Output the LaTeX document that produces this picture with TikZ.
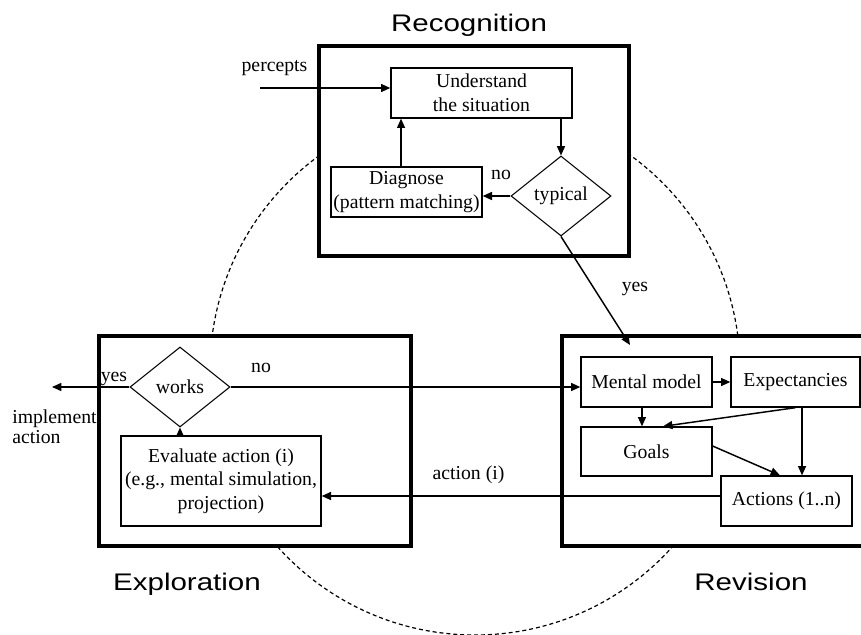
\documentclass[tikz,border=0pt]{standalone}
\usepackage{fontspec}
\setmainfont{Liberation Serif}
\newfontfamily\titlefont[FakeStretch=1.23]{Liberation Sans}
\usetikzlibrary{shapes.geometric,arrows.meta}
\begin{document}
\begin{tikzpicture}[x=0.75pt,y=-0.75pt,
  every node/.style={font=\fontsize{14.8pt}{17.8pt}\selectfont},
  box/.style={draw, line width=1pt, fill=white, align=center, inner sep=0pt, minimum height=37.5pt},
  outer/.style={draw, line width=3pt, fill=white, inner sep=0pt},
  dec/.style={draw, diamond, line width=0.8pt, inner sep=0pt, minimum width=75pt, minimum height=60pt, fill=white},
  arr/.style={line width=1.1pt, -{Triangle[length=7pt,width=6pt]}},
  title/.style={font=\titlefont\fontsize{18pt}{21pt}\selectfont, anchor=base},
  lbl/.style={anchor=base}]
\clip (0,0) rectangle (861,635);
% dashed cycle
\draw[line width=0.9pt, dash pattern=on 3pt off 2.2pt] (475,370) circle [radius=198.75pt];
% outer boxes
\node[outer, minimum width=232.5pt, minimum height=157.5pt] (rec) at (474,151) {};
\node[outer, minimum width=234pt, minimum height=157.5pt] (expl) at (255,441) {};
\node[outer, minimum width=253.5pt, minimum height=157.5pt] (rev) at (731,441) {};
% recognition
\node[box, minimum width=135.75pt] (und) at (481.5,93) {Understand\\the situation};
\node[box, minimum width=113.25pt] (diag) at (406.5,192) {Diagnose\\(pattern matching)};
\node[dec] (typ) at (561,196) {typical};
% exploration
\node[dec] (works) at (180,387) {works};
\node[box, minimum width=150pt, minimum height=67.5pt] (eval) at (221,481) {Evaluate action (i)\\(e.g., mental simulation,\\projection)};
% revision
\node[box, minimum width=98.25pt] (mm) at (646.5,382) {Mental model};
\node[box, minimum width=96.75pt] (exp) at (795.5,382) {Expectancies};
\node[box, minimum width=98.25pt, minimum height=36.75pt] (goals) at (646.5,451.5) {Goals};
\node[box, minimum width=98.25pt] (act) at (786.5,501) {Actions (1..n)};
% connectors
\coordinate (pin) at (260,88);
\draw[arr] (pin) -- (und.west |- pin);
\draw[arr] (typ.north |- und.south) -- (typ.north);
\coordinate (d1) at ([xshift=-4.1pt]diag.north);
\draw[arr] (d1) -- (d1 |- und.south);
\draw[arr] (typ.west) -- (diag.east |- typ.west);
\coordinate (yesend) at (630,345);
\draw[arr] (typ.south) -- (yesend);
\coordinate (impl) at (52,387);
\draw[arr] (works.west) -- (impl);
\draw[arr] (works.east) -- (mm.west |- works.east);
\draw[arr] (works.south |- eval.north) -- (works.south);
\draw[arr] (mm.east) -- (exp.west);
\coordinate (m1) at ([xshift=-3.4pt]mm.south);
\draw[arr] (m1) -- (m1 |- goals.north);
\draw[arr] (exp.south) -- ([xshift=12.4pt]goals.north);
\coordinate (e1) at ([xshift=4.9pt]exp.south);
\draw[arr] (e1) -- (e1 |- act.north);
\draw[arr] ([yshift=4.1pt]goals.east) -- ([xshift=-4.9pt]act.north);
\coordinate (a1) at ([yshift=3.75pt]act.west);
\draw[arr] (a1) -- (eval.east |- a1);
% labels
\node[lbl] (lpercepts) at (274.5,72) {percepts};
\node[lbl] (lno1) at (501,180) {no};
\node[lbl] (lyes1) at (635,291) {yes};
\node[lbl] (lyes2) at (114,381) {yes};
\node[lbl] (lno2) at (261,372) {no};
\node[anchor=base west, inner xsep=0pt] (limpl1) at (12,423) {implement};
\node[anchor=base west, inner xsep=0pt] (limpl2) at (12,443) {action};
\node[lbl] (lact) at (468.5,479) {action (i)};
\node[title] (trec) at (469,32) {Recognition};
\node[title] (texp) at (187,590) {Exploration};
\node[title] (trev) at (751,590) {Revision};
\end{tikzpicture}
\end{document}
